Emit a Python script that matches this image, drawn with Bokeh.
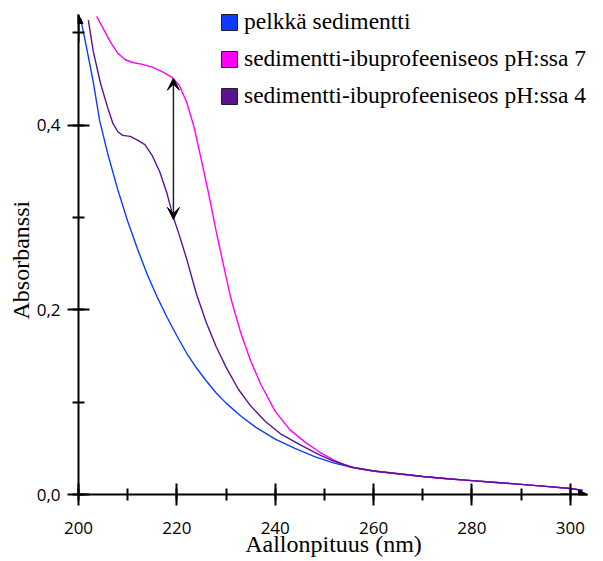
import math
from bokeh.plotting import figure
from bokeh.models import (Range1d, SingleIntervalTicker, CustomJSTickFormatter, Arrow,
                          NormalHead, VeeHead, Legend, LegendItem, Title)
from bokeh.embed import file_html
from bokeh.resources import INLINE

# ---- data ----
series_names = ["pelkkä sedimentti",
                "sedimentti-ibuprofeeniseos pH:ssa 7",
                "sedimentti-ibuprofeeniseos pH:ssa 4"]
series_colors = ["#0d3bff", "#ff00ff", "#5b1390"]

tail_wl = [260, 265, 270, 275, 280, 285, 290, 295, 300, 302.5]
tail_abs = [0.0255, 0.0225, 0.0195, 0.017, 0.015, 0.013, 0.011, 0.0088, 0.0065, 0.0045]

blue_wl = [200.4, 201.5, 203, 204.3, 206, 208, 210, 212, 214, 216, 218, 220, 222, 224,
           226, 228, 230, 233, 236, 240, 244, 248, 252, 256]
blue_abs = [0.516, 0.488, 0.447, 0.405, 0.368, 0.330, 0.296, 0.266, 0.238, 0.214, 0.192,
            0.172, 0.153, 0.137, 0.123, 0.110, 0.099, 0.085, 0.073, 0.060, 0.050, 0.041,
            0.034, 0.029]

magenta_wl = [203.7, 205, 206.5, 208, 209.5, 211, 213, 215, 217, 219, 220.5, 222, 223.5,
              225, 226.5, 228, 229.5, 231, 233, 235, 237, 240, 243, 246, 249, 252, 255]
magenta_abs = [0.518, 0.505, 0.490, 0.478, 0.471, 0.468, 0.466, 0.463, 0.458, 0.452, 0.443,
               0.425, 0.398, 0.362, 0.325, 0.285, 0.248, 0.212, 0.175, 0.145, 0.120, 0.090,
               0.070, 0.057, 0.046, 0.037, 0.030]

purple_wl = [202, 203, 204.5, 206, 207, 208, 209, 210.5, 212, 213.5, 215, 216.5, 218, 219.3,
             220.5, 222, 224, 226, 228, 230, 232.5, 235, 238, 241, 245, 249, 252, 256]
purple_abs = [0.514, 0.480, 0.445, 0.418, 0.402, 0.393, 0.389, 0.388, 0.384, 0.379, 0.367,
              0.350, 0.326, 0.300, 0.281, 0.255, 0.217, 0.186, 0.160, 0.138, 0.114, 0.096,
              0.079, 0.066, 0.054, 0.043, 0.036, 0.029]

x_tick_interval = 20
y_tick_interval = 0.2
x_label = "Aallonpituus (nm)"
y_label = "Absorbanssi"

# axis extents (data units); the frame reaches the top canvas edge
AX_X0, AX_X1 = 200, 303.5
AX_Y0, AX_Y1 = 0, 0.52
X_END = 303.70
Y_END = 0.53517

p = figure(width=603, height=561, output_backend="svg", toolbar_location=None,
           x_range=Range1d(AX_X0, X_END), y_range=Range1d(AX_Y0, Y_END),
           min_border_left=78, min_border_right=15, min_border_top=0, min_border_bottom=67)
p.grid.visible = False
p.outline_line_color = None
p.background_fill_color = "white"

for ax in (p.xaxis[0], p.yaxis[0]):
    ax.axis_line_width = 2
    ax.axis_line_color = "black"
    ax.major_tick_line_width = 2
    ax.minor_tick_line_width = 2
    ax.major_tick_line_color = "black"
    ax.minor_tick_line_color = "black"
    ax.major_tick_in = 11
    ax.major_tick_out = 11
    ax.minor_tick_in = 6
    ax.minor_tick_out = 6
    ax.major_label_text_font = "Open Sans"
    ax.major_label_text_font_size = "17px"
    ax.major_label_text_color = "black"
    ax.axis_label_text_font = "Liberation Serif"
    ax.axis_label_text_font_size = "24px"
    ax.axis_label_text_font_style = "normal"
    ax.axis_label_text_color = "black"

p.xaxis.bounds = (AX_X0, AX_X1)
p.yaxis.bounds = (AX_Y0, AX_Y1)
p.xaxis.ticker = SingleIntervalTicker(interval=x_tick_interval, num_minor_ticks=2)
p.yaxis.ticker = SingleIntervalTicker(interval=y_tick_interval, num_minor_ticks=2)
p.yaxis.formatter = CustomJSTickFormatter(code="return tick.toFixed(1).replace('.', ',');")
p.xaxis.major_label_standoff = 16
p.yaxis.major_label_standoff = 7
p.xaxis.axis_label = x_label
p.xaxis.axis_label_standoff = -6

# y title as a side-panel title so it can be shifted along the axis
ytitle = Title(text=y_label, align="left", offset=175, text_font="Liberation Serif",
               text_font_size="24px", text_font_style="normal", text_color="black")
try:
    ytitle.standoff = 0
except AttributeError:
    pass
p.add_layout(ytitle, "left")

# ---- curves ----
curves = [(blue_wl + tail_wl, blue_abs + tail_abs),
          (magenta_wl + tail_wl, magenta_abs + tail_abs),
          (purple_wl + tail_wl, purple_abs + tail_abs)]
for (xs, ys), c in zip(curves, series_colors):
    p.line(xs, ys, line_color=c, line_width=1.4)

# ---- axis arrow heads ----
p.add_layout(Arrow(x_start=AX_X0, y_start=0.49, x_end=AX_X0, y_end=AX_Y1, line_width=2,
                   end=NormalHead(size=9, fill_color="black", line_color="black")))
p.add_layout(Arrow(x_start=298, y_start=AX_Y0, x_end=AX_X1, y_end=AX_Y0, line_width=2,
                   end=NormalHead(size=9, fill_color="black", line_color="black")))

# ---- double arrow ----
p.add_layout(Arrow(x_start=219.3, y_start=0.298, x_end=219.3, y_end=0.451,
                   line_width=1.5, line_color="#222222",
                   start=VeeHead(size=12, fill_color="black", line_color="black"),
                   end=VeeHead(size=12, fill_color="black", line_color="black")))

# ---- legend ----
nan = float("nan")
items = []
for name, c in zip(series_names, series_colors):
    r = p.quad(left=[nan], right=[nan], top=[nan], bottom=[nan],
               fill_color=c, line_color="#222222", line_width=1)
    items.append(LegendItem(label=name, renderers=[r]))
legend = Legend(items=items, location=(141, 385), glyph_width=20, glyph_height=20,
                label_text_font="Liberation Serif", label_text_font_size="23.5px",
                label_text_color="black", spacing=10, padding=0, margin=0,
                label_standoff=5, border_line_alpha=0, background_fill_alpha=0)
p.add_layout(legend)

open("out.html", "w").write(file_html(p, INLINE))
